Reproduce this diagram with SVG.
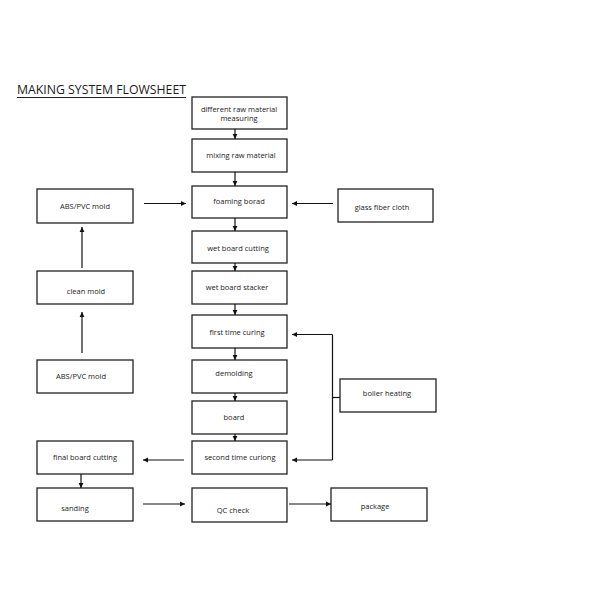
<svg xmlns="http://www.w3.org/2000/svg" width="600" height="600" viewBox="0 0 600 600">
<style>
.box{fill:#fff;stroke:#222;stroke-width:1.3}
.t{font-family:"Open Sans","Liberation Sans",sans-serif;font-size:7.5px;fill:#1a1a1a;text-anchor:middle}
.c{fill:none;stroke:#111;stroke-width:1.2}
</style>
<defs>
<marker id="ah" markerWidth="6" markerHeight="6" refX="5" refY="3" orient="auto" markerUnits="userSpaceOnUse">
<path d="M0,0.6 L5,3 L0,5.4 Z" fill="#111"/>
</marker>
</defs>
<rect width="600" height="600" fill="#fff"/>
<g id="title">
<text x="17" y="94" font-family="'Open Sans','Liberation Sans',sans-serif" font-size="13.5" fill="#1a1a1a" textLength="169" lengthAdjust="spacingAndGlyphs">MAKING SYSTEM FLOWSHEET</text>
<line x1="17" y1="97.5" x2="186" y2="97.5" stroke="#222" stroke-width="1"/>
</g>
<g id="n1"><rect class="box" x="192" y="97" width="95" height="32"/><text class="t" x="239" y="112">different raw material</text><text class="t" x="239" y="121">measuring</text></g>
<g id="n2"><rect class="box" x="192" y="139" width="95" height="33"/><text class="t" x="241" y="157.5">mixing raw material</text></g>
<g id="n3"><rect class="box" x="192" y="186" width="95" height="32"/><text class="t" x="239" y="204">foaming borad</text></g>
<g id="n4"><rect class="box" x="192" y="231" width="95" height="32"/><text class="t" x="238" y="250.5">wet board cutting</text></g>
<g id="n5"><rect class="box" x="192" y="271" width="95" height="33"/><text class="t" x="237" y="290">wet board stacker</text></g>
<g id="n6"><rect class="box" x="192" y="315" width="95" height="33"/><text class="t" x="237" y="335">first time curing</text></g>
<g id="n7"><rect class="box" x="192" y="360" width="95" height="33"/><text class="t" x="234" y="376">demolding</text></g>
<g id="n8"><rect class="box" x="192" y="401" width="95" height="33"/><text class="t" x="234" y="419.5">board</text></g>
<g id="n9"><rect class="box" x="192" y="441" width="95" height="33"/><text class="t" x="240" y="460">second time curiong</text></g>
<g id="n10"><rect class="box" x="192" y="488" width="95" height="34"/><text class="t" x="233" y="512.5">QC check</text></g>
<g id="n11"><rect class="box" x="37" y="189" width="96" height="34"/><text class="t" x="85" y="208.5">ABS/PVC mold</text></g>
<g id="n12"><rect class="box" x="37" y="271" width="96" height="33"/><text class="t" x="86" y="293.5">clean mold</text></g>
<g id="n13"><rect class="box" x="37" y="360" width="96" height="33"/><text class="t" x="81" y="379">ABS/PVC mold</text></g>
<g id="n14"><rect class="box" x="37" y="441" width="96" height="33"/><text class="t" x="85" y="460">final board cutting</text></g>
<g id="n15"><rect class="box" x="37" y="488" width="96" height="33"/><text class="t" x="75" y="511">sanding</text></g>
<g id="n16"><rect class="box" x="338" y="189" width="95" height="33"/><text class="t" x="382" y="209.5">glass fiber cloth</text></g>
<g id="n17"><rect class="box" x="340" y="379" width="96" height="33"/><text class="t" x="387" y="395.5">boiler heating</text></g>
<g id="n18"><rect class="box" x="331" y="488" width="96" height="33"/><text class="t" x="375" y="509">package</text></g>
<g id="connectors">
<line class="c" x1="235" y1="129" x2="235" y2="139" marker-end="url(#ah)"/>
<line class="c" x1="235" y1="172" x2="235" y2="186" marker-end="url(#ah)"/>
<line class="c" x1="235" y1="218" x2="235" y2="231" marker-end="url(#ah)"/>
<line class="c" x1="235" y1="263" x2="235" y2="271" marker-end="url(#ah)"/>
<line class="c" x1="235" y1="304" x2="235" y2="315" marker-end="url(#ah)"/>
<line class="c" x1="235" y1="348" x2="235" y2="360" marker-end="url(#ah)"/>
<line class="c" x1="235" y1="393" x2="235" y2="401" marker-end="url(#ah)"/>
<line class="c" x1="235" y1="434" x2="235" y2="441" marker-end="url(#ah)"/>
<line class="c" x1="144" y1="203.5" x2="186" y2="203.5" marker-end="url(#ah)"/>
<line class="c" x1="333" y1="203.5" x2="292" y2="203.5" marker-end="url(#ah)"/>
<line class="c" x1="82" y1="268" x2="82" y2="227" marker-end="url(#ah)"/>
<line class="c" x1="82" y1="353" x2="82" y2="312" marker-end="url(#ah)"/>
<polyline class="c" points="340,397.5 332.5,397.5"/>
<polyline class="c" points="332.5,334.5 332.5,460"/>
<line class="c" x1="332.5" y1="334.5" x2="292" y2="334.5" marker-end="url(#ah)"/>
<line class="c" x1="332.5" y1="460" x2="292" y2="460" marker-end="url(#ah)"/>
<line class="c" x1="184" y1="460" x2="143" y2="460" marker-end="url(#ah)"/>
<line class="c" x1="81" y1="474" x2="81" y2="488" marker-end="url(#ah)"/>
<line class="c" x1="143" y1="504" x2="185" y2="504" marker-end="url(#ah)"/>
<line class="c" x1="289" y1="504" x2="331" y2="504" marker-end="url(#ah)"/>
</g>
</svg>
